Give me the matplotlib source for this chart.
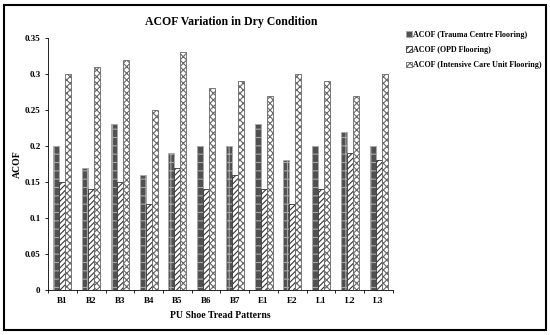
import numpy as np
import matplotlib.pyplot as plt
from matplotlib.patches import Rectangle

plt.rcParams['font.family'] = ['Liberation Serif', 'DejaVu Serif']
plt.rcParams['font.weight'] = 'bold'
plt.rcParams['hatch.linewidth'] = 0.8

patterns = ['B1', 'B2', 'B3', 'B4', 'B5', 'B6', 'B7', 'E1', 'E2', 'L1', 'L2', 'L3']
trauma = [0.20, 0.17, 0.23, 0.16, 0.19, 0.20, 0.20, 0.23, 0.18, 0.20, 0.22, 0.20]
opd = [0.15, 0.14, 0.15, 0.12, 0.17, 0.14, 0.16, 0.14, 0.12, 0.14, 0.19, 0.18]
icu = [0.30, 0.31, 0.32, 0.25, 0.33, 0.28, 0.29, 0.27, 0.30, 0.29, 0.27, 0.30]
series_names = ['ACOF (Trauma Centre Flooring)', 'ACOF (OPD Flooring)',
                'ACOF (Intensive Care Unit Flooring)']

fig = plt.figure(figsize=(5.5, 3.35), dpi=100)
ax = fig.add_axes([0.0873, 0.1343, 0.6272, 0.7523])

x = np.arange(len(patterns))
w = 0.21
ax.bar(x - w, trauma, w, facecolor='#505050', edgecolor='#a8a8a8', hatch='++', linewidth=0.6,
       label=series_names[0])
ax.bar(x, opd, w, facecolor='white', edgecolor='#333333', hatch='//////', linewidth=0.6,
       label=series_names[1])
ax.bar(x + w, icu, w, facecolor='white', edgecolor='#666666', hatch='xxxxx', linewidth=0.6,
       label=series_names[2])

ax.set_xlim(-0.5, len(patterns) - 0.5)
ax.set_ylim(0, 0.35)
ax.set_yticks([0, 0.05, 0.1, 0.15, 0.2, 0.25, 0.3, 0.35])
ax.set_yticklabels(['0', '0.05', '0.1', '0.15', '0.2', '0.25', '0.3', '0.35'])
ax.set_xticks(x)
ax.set_xticklabels(patterns)
ax.set_xticks(np.arange(-0.5, len(patterns)), minor=True)
ax.tick_params(axis='x', which='major', length=0, labelsize=6.5, pad=5)
ax.tick_params(axis='x', which='minor', length=2, width=0.6)
ax.tick_params(axis='y', length=2, width=0.6, labelsize=6.5)
for s in ['top', 'right']:
    ax.spines[s].set_visible(False)
for s in ['left', 'bottom']:
    ax.spines[s].set_linewidth(0.6)

ax.set_xlabel('PU Shoe Tread Patterns', fontsize=7, fontweight='bold', labelpad=4)
ax.set_ylabel('ACOF', fontsize=7, fontweight='bold', labelpad=2)
fig.text(0.42, 0.935, 'ACOF Variation in Dry Condition', ha='center', va='center',
         fontsize=8.5, fontweight='bold')

leg = fig.legend(loc='upper left', bbox_to_anchor=(0.725, 0.93), frameon=False,
                 fontsize=5.8, handlelength=0.7, handleheight=0.7, handletextpad=0.2,
                 labelspacing=0.9)

fig.patches.append(Rectangle((0.008, 0.015), 0.985, 0.97, transform=fig.transFigure,
                             fill=False, edgecolor='black', linewidth=1.5))

fig.savefig('out.png', dpi=100)
